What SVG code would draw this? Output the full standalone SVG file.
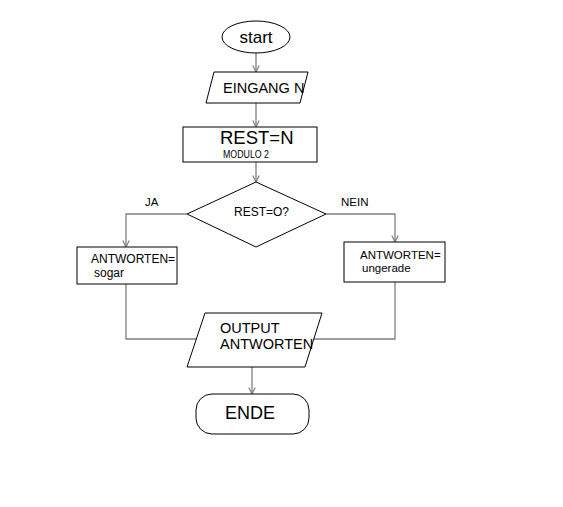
<svg xmlns="http://www.w3.org/2000/svg" width="563" height="507" viewBox="0 0 563 507">
<defs>
<style>
.shape{fill:#fff;stroke:#000;stroke-width:1}
.conn{fill:none;stroke:#808080;stroke-width:1.3}
text{font-family:"Liberation Sans",Arial,sans-serif;fill:#000}
</style>
<marker id="arr" viewBox="0 0 10 10" refX="9" refY="5" markerWidth="8" markerHeight="8" markerUnits="userSpaceOnUse" orient="auto">
<path d="M1,1 L9,5 L1,9" fill="none" stroke="#808080" stroke-width="1.5"/>
</marker>
</defs>
<rect width="563" height="507" fill="#fff"/>
<g id="connectors">
<path class="conn" d="M256,53 V72" marker-end="url(#arr)"/>
<path class="conn" d="M256,103 V127" marker-end="url(#arr)"/>
<path class="conn" d="M256,162 V182" marker-end="url(#arr)"/>
<path class="conn" d="M187,214 H126 V247" marker-end="url(#arr)"/>
<path class="conn" d="M326,214 H395 V242" marker-end="url(#arr)"/>
<path class="conn" d="M126,284 V339 H196"/>
<path class="conn" d="M395,282 V339 H314"/>
<path class="conn" d="M252,367 V394" marker-end="url(#arr)"/>
<text x="145" y="206" font-size="11.5">JA</text>
<text x="341" y="206" font-size="11.5">NEIN</text>
</g>
<g id="start">
<ellipse class="shape" cx="256" cy="37" rx="34" ry="16"/>
<text x="256" y="43" font-size="17" text-anchor="middle">start</text>
</g>
<g id="eingang">
<polygon class="shape" points="214,72 308,72 300,103 206,103"/>
<text x="223" y="93" font-size="14.5">EINGANG N</text>
</g>
<g id="rest">
<rect class="shape" x="183" y="127" width="134" height="35"/>
<text x="220" y="144" font-size="18.5">REST=N</text>
<text x="223" y="158" font-size="10" textLength="46" lengthAdjust="spacingAndGlyphs">MODULO 2</text>
</g>
<g id="decision">
<polygon class="shape" points="256,182 326,214 256,247 187,214"/>
<text x="234" y="216" font-size="12">REST=O?</text>
</g>
<g id="sogar">
<rect class="shape" x="77" y="247" width="100" height="37"/>
<text x="91" y="263" font-size="12">ANTWORTEN=</text>
<text x="94" y="277" font-size="12">sogar</text>
</g>
<g id="ungerade">
<rect class="shape" x="344" y="242" width="101" height="40"/>
<text x="360" y="259" font-size="11.5">ANTWORTEN=</text>
<text x="362" y="272" font-size="11.5">ungerade</text>
</g>
<g id="output">
<polygon class="shape" points="205,313 322,313 305,367 187,367"/>
<text x="220" y="333" font-size="14.5">OUTPUT</text>
<text x="220" y="349" font-size="14.5">ANTWORTEN</text>
</g>
<g id="ende">
<rect class="shape" x="196" y="394" width="113" height="40" rx="16" ry="16"/>
<text x="250" y="419" font-size="18" text-anchor="middle">ENDE</text>
</g>
</svg>
